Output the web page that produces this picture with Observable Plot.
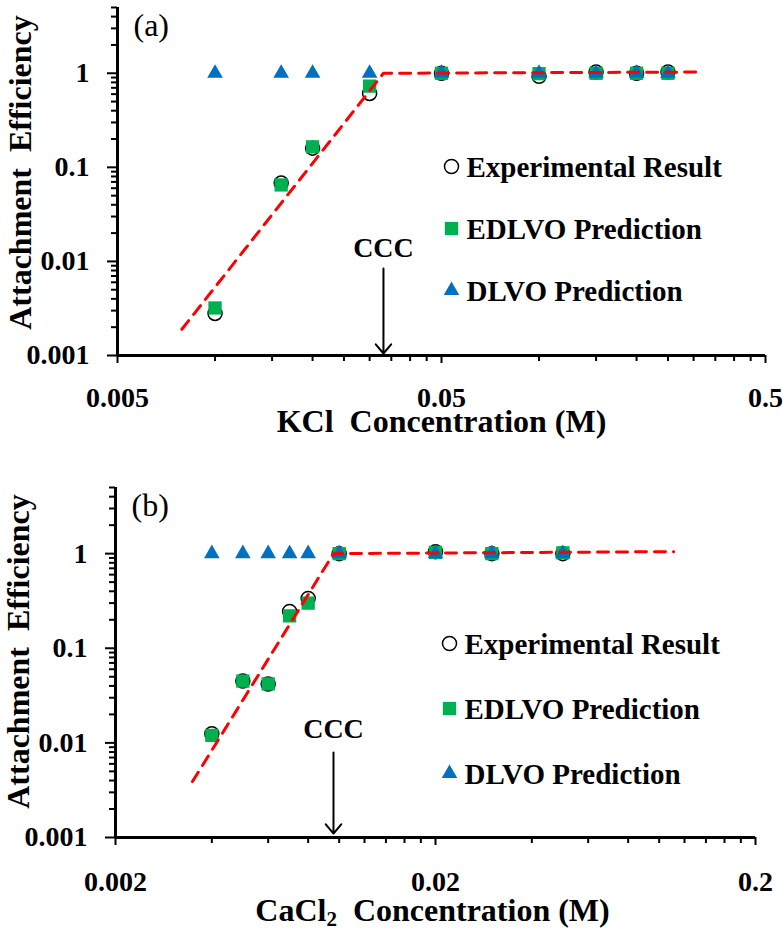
<!DOCTYPE html>
<html>
<head>
<meta charset="utf-8">
<script src="https://cdn.jsdelivr.net/npm/d3@7"></script>
<script src="https://cdn.jsdelivr.net/npm/@observablehq/plot@0.6"></script>
<style>
  html, body { margin: 0; padding: 0; background: #fff; }
  #chart svg { display: block; }
  #chart svg, #chart svg text, #chart svg tspan { font-family: "Liberation Serif", "Times New Roman", serif !important; }
</style>
</head>
<body>
<div id="chart"></div>
<script>
// ---------- Data: panel (a) KCl ----------
const kclConc         = [0.01, 0.016, 0.02, 0.03, 0.05, 0.1, 0.15, 0.2, 0.25];
const kclExperimental = [0.0028, 0.068, 0.16, 0.61, 1.0, 0.93, 1.03, 1.0, 1.03];
const kclEDLVO        = [0.0032, 0.065, 0.165, 0.73, 1.0, 0.99, 1.0, 1.0, 1.0];
const kclDLVO         = [1, 1, 1, 1, 1, 1, 1, 1, 1];
const kclFitConc      = [0.0079, 0.0331, 0.315];
const kclFitAlpha     = [0.0019, 1.0, 1.03];
const kclCCC          = 0.0331;

// ---------- Data: panel (b) CaCl2 ----------
const cacl2Conc         = [0.004, 0.005, 0.006, 0.007, 0.008, 0.01, 0.02, 0.03, 0.05];
const cacl2Experimental = [0.0125, 0.045, 0.042, 0.245, 0.336, 1.0, 1.05, 1.0, 1.0];
const cacl2EDLVO        = [0.012, 0.045, 0.042, 0.22, 0.30, 1.0, 1.03, 1.0, 1.02];
const cacl2DLVO         = [1, 1, 1, 1, 1, 1, 1, 1, 1];
const cacl2FitConc      = [0.00348, 0.0096, 0.111];
const cacl2FitAlpha     = [0.0039, 1.0, 1.05];
const cacl2CCC          = 0.0096;

// ---------- Ticks / labels ----------
const yMajorTicks   = [0.001, 0.01, 0.1, 1];
const yMajorLabels  = ["0.001", "0.01", "0.1", "1"];
const kclXTicks     = [0.005, 0.05, 0.5];
const kclXLabels    = ["0.005", "0.05", "0.5"];
const cacl2XTicks   = [0.002, 0.02, 0.2];
const cacl2XLabels  = ["0.002", "0.02", "0.2"];
const legendLabels  = ["Experimental Result", "EDLVO Prediction", "DLVO Prediction"];
const yTitle        = "Attachment\u00a0 Efficiency";
const kclXTitle     = "KCl\u00a0 Concentration (M)";
const cacl2XTitle   = "CaCl2\u00a0 Concentration (M)";

// ---------- Styling ----------
const FONT = '"Liberation Serif", "Times New Roman", serif';
const GREEN = "#00B050", BLUE = "#0070C0", RED = "#FF0000";
const TICK_FS = 28, LEGEND_FS = 29, TITLE_FS = 32;

function minorTicks(lo, hi) {
  const out = [];
  for (let b = lo; b < hi * 0.999; b *= 10) {
    for (let k = 2; k <= 9; k++) {
      const v = b * k;
      if (v <= hi * 1.0001) out.push(v);
    }
  }
  return out;
}

function panel(cfg) {
  const rows = cfg.conc.map((c, i) => ({c, exp: cfg.exp[i], ed: cfg.ed[i], dl: cfg.dl[i]}));
  const fit = cfg.fitX.map((x, i) => ({x, y: cfg.fitY[i]}));
  const yDomain = [0.001, 5];
  const xLabelMap = new Map(cfg.xTicks.map((t, i) => [t, cfg.xLabels[i]]));
  const yLabelMap = new Map(yMajorTicks.map((t, i) => [t, yMajorLabels[i]]));
  const txt = {fontFamily: FONT, fill: "black"};

  const legendStyles = [
    {symbol: "circle", r: 7, fill: "white", stroke: "black", strokeWidth: 1.5},
    {symbol: "square", r: 7.5, fill: GREEN, stroke: "none"},
    {symbol: "triangle", r: 5.8, fill: BLUE, stroke: "none"}
  ];
  const legendMarks = [];
  legendLabels.forEach((lab, i) => {
    legendMarks.push(Plot.dot([lab], {frameAnchor: "top-left", dx: cfg.legDx, dy: cfg.legDy[i], ...legendStyles[i]}));
    legendMarks.push(Plot.text([lab], {frameAnchor: "top-left", dx: cfg.legDx + 15, dy: cfg.legDy[i] + 1.5,
      text: d => d, textAnchor: "start", lineAnchor: "middle", fontSize: LEGEND_FS, fontWeight: "bold", ...txt}));
  });

  const svg = Plot.plot({
    width: 783,
    height: 465,
    marginTop: cfg.mt, marginBottom: cfg.mb, marginLeft: cfg.ml, marginRight: cfg.mr,
    style: {fontFamily: FONT, background: "white", color: "black", overflow: "visible"},
    x: {type: "log", domain: cfg.xDomain},
    y: {type: "log", domain: yDomain},
    marks: [
      // minor ticks
      Plot.axisY({ticks: minorTicks(0.001, 5), tickSize: 6, tickFormat: () => "", label: null, strokeWidth: 2}),
      Plot.axisX({ticks: minorTicks(cfg.xDomain[0], cfg.xDomain[1]), tickSize: 6, tickFormat: () => "", label: null, strokeWidth: 2}),
      // major ticks with labels
      Plot.axisY({ticks: yMajorTicks, tickSize: 10, tickPadding: 18, tickFormat: d => yLabelMap.get(d),
        label: null, strokeWidth: 2, fontSize: TICK_FS, fontWeight: "bold", fontFamily: FONT}),
      Plot.axisX({ticks: cfg.xTicks, tickSize: 8, tickPadding: cfg.xPad, tickFormat: d => xLabelMap.get(d),
        label: null, strokeWidth: 2, fontSize: TICK_FS, fontWeight: "bold", fontFamily: FONT}),
      // axis lines
      Plot.ruleY([yDomain[0]], {stroke: "black", strokeWidth: 3}),
      Plot.ruleX([cfg.xDomain[0]], {stroke: "black", strokeWidth: 3}),
      // data
      Plot.dot(rows, {x: "c", y: "exp", symbol: "circle", r: 7, fill: "white", stroke: "black", strokeWidth: 1.5}),
      Plot.dot(rows, {x: "c", y: "ed", symbol: "square", r: 7.5, fill: GREEN}),
      Plot.dot(rows, {x: "c", y: "dl", symbol: "triangle", r: 5.8, fill: BLUE}),
      Plot.line(fit, {x: "x", y: "y", stroke: RED, strokeWidth: 3, strokeDasharray: "11,8"}),
      // CCC annotation
      Plot.arrow([cfg.ccc], {x: d => d, y1: () => cfg.arrowTop, y2: () => cfg.arrowBottom,
        stroke: "black", strokeWidth: 2, headAngle: 80, headLength: 9, bend: 0}),
      Plot.text([cfg.ccc], {x: d => d, frameAnchor: "bottom", dy: cfg.cccDy, text: () => "CCC",
        textAnchor: "middle", lineAnchor: "middle", fontSize: 28, fontWeight: "bold", ...txt}),
      // panel tag
      Plot.text([cfg.tag], {frameAnchor: "top-left", dx: 16, dy: cfg.tagDy, text: d => d, textAnchor: "start",
        lineAnchor: "middle", fontSize: 32, ...txt}),
      // titles
      Plot.text([yTitle], {frameAnchor: "left", dx: cfg.yTitleDx, dy: cfg.yTitleDy, rotate: -90, text: d => d,
        textAnchor: "middle", lineAnchor: "middle", fontSize: TITLE_FS, fontWeight: "bold", ...txt}),
      Plot.text([cfg.xTitle], {frameAnchor: "bottom", dx: cfg.xTitleDx, dy: cfg.xTitleDy, text: d => d,
        textAnchor: "middle", lineAnchor: "middle", fontSize: TITLE_FS, fontWeight: "bold", ...txt}),
      ...legendMarks
    ]
  });

  // subscript for CaCl2
  d3.select(svg).selectAll("text").each(function () {
    if (this.textContent === cacl2XTitle) {
      const t = d3.select(this);
      t.text("");
      t.append("tspan").text("CaCl");
      t.append("tspan").attr("font-size", 21).attr("dy", 5).text("2");
      t.append("tspan").attr("dy", -5).text("\u00a0 Concentration (M)");
    }
  });
  return svg;
}

const chart = document.getElementById("chart");
chart.appendChild(panel({
  conc: kclConc, exp: kclExperimental, ed: kclEDLVO, dl: kclDLVO,
  fitX: kclFitConc, fitY: kclFitAlpha, ccc: kclCCC,
  xDomain: [0.005, 0.5], xTicks: kclXTicks, xLabels: kclXLabels, xTitle: kclXTitle, tag: "(a)",
  mt: 7, mb: 110, ml: 117, mr: 18, xPad: 24,
  arrowTop: 0.0084, arrowBottom: 0.00105, cccDy: -107,
  tagDy: 18, yTitleDx: -97, yTitleDy: -9, xTitleDx: 0, xTitleDy: 66,
  legDx: 334, legDy: [159, 221, 283]
}));
chart.appendChild(panel({
  conc: cacl2Conc, exp: cacl2Experimental, ed: cacl2EDLVO, dl: cacl2DLVO,
  fitX: cacl2FitConc, fitY: cacl2FitAlpha, ccc: cacl2CCC,
  xDomain: [0.002, 0.2], xTicks: cacl2XTicks, xLabels: cacl2XLabels, xTitle: cacl2XTitle, tag: "(b)",
  mt: 22, mb: 93, ml: 115, mr: 28, xPad: 26,
  arrowTop: 0.0079, arrowBottom: 0.0011, cccDy: -108,
  tagDy: 18, yTitleDx: -97, yTitleDy: -11, xTitleDx: -3, xTitleDy: 73,
  legDx: 334, legDy: [156, 221, 286]
}));
</script>
</body>
</html>
